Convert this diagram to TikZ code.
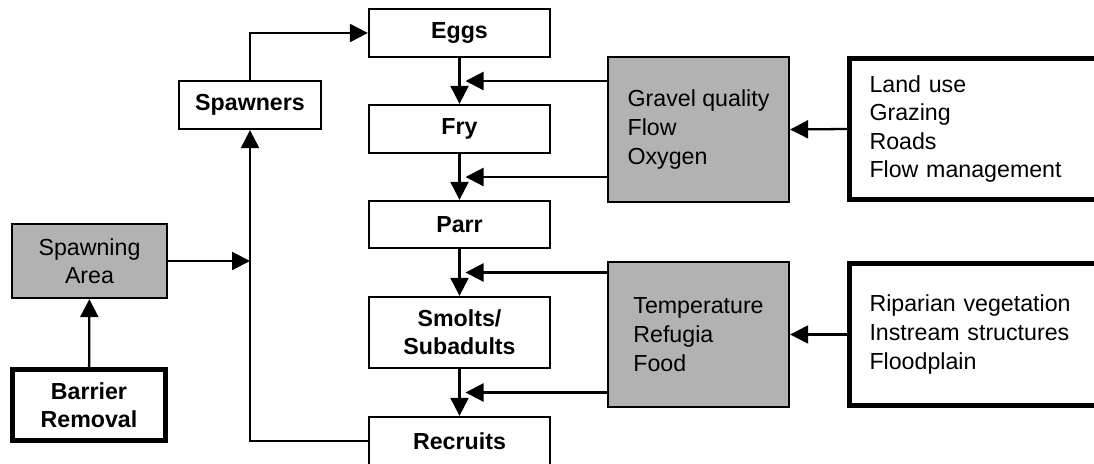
\documentclass[tikz,border=0pt]{standalone}
\usepackage{fontspec}
\setmainfont{Liberation Sans}
\usetikzlibrary{arrows.meta, calc}
\definecolor{habitatgray}{RGB}{178, 178, 178}

\begin{document}
\begin{tikzpicture}[
    stage/.style={
        rectangle,
        draw=black,
        fill=white,
        line width=1.3pt,
        minimum width=3.62cm,
        minimum height=0.96cm,
        align=center,
        font=\fontsize{13.2}{16}\selectfont\bfseries
    },
    factor/.style={
        rectangle,
        draw=black,
        fill=habitatgray,
        line width=1.3pt,
        minimum width=3.62cm,
        minimum height=2.9cm,
        align=left,
        font=\fontsize{13.2}{16.3}\selectfont
    },
    action/.style={
        rectangle,
        draw=black,
        fill=white,
        line width=2.8pt,
        minimum height=2.82cm,
        text width=4.4cm,
        inner xsep=0.4cm,
        align=left,
        font=\fontsize{13.2}{16.3}\selectfont
    },
    arrow/.style={
        -{Triangle[length=0.36cm, width=0.36cm]},
        line width=1.3pt
    }
]

% Page frame
\useasboundingbox (0,0) rectangle (21.88,9.26);
\clip (0,0) rectangle (21.88,9.26);
\fill[white] (0,0) rectangle (21.88,9.26);

% Life stages
\node[stage] (eggs) at (9.19,8.60) {Eggs};
\node[stage] (fry) at (9.19,6.68) {Fry};
\node[stage, minimum height=0.94cm] (parr) at (9.19,4.77) {Parr};
\node[stage, minimum height=1.42cm] (smolts) at (9.19,2.61) {Smolts/\\Subadults};
\node[stage] (recruits) at (9.19,0.44) {Recruits};
\node[stage, minimum width=2.84cm] (spawners) at (5.00,7.16) {Spawners};

% Spawning habitat
\node[stage, fill=habitatgray, font=\fontsize{13.2}{16}\selectfont, minimum width=3.10cm, minimum height=1.48cm] (spawning) at (1.79,4.04) {Spawning\\Area};
\node[stage, line width=2.8pt, minimum width=3.06cm, minimum height=1.42cm] (barrier) at (1.78,1.16) {Barrier\\Removal};

% Habitat factors
\node[factor] (gravel) at (13.97,6.67) {Gravel quality\\Flow\\Oxygen};
\node[factor] (temperature) at (13.97,2.57) {Temperature\\Refugia\\Food};

% Management actions
\node[action] (landuse) at (19.59,6.68) {Land use\\Grazing\\Roads\\Flow management};
\node[action, minimum height=2.84cm] (riparian) at (19.59,2.57) {Riparian vegetation\\Instream structures\\Floodplain};

% Arrow ends on the stage chain
\coordinate (gf1) at ($(eggs.south)!0.5!(fry.north) + (0.12,0)$);
\coordinate (gf2) at ($(fry.south)!0.5!(parr.north) + (0.12,0)$);
\coordinate (tf1) at ($(parr.south)!0.5!(smolts.north) + (0.12,0)$);
\coordinate (tf2) at ($(smolts.south)!0.5!(recruits.north) + (0.12,0)$);

% Arrows
\draw[arrow] (eggs) -- (fry);
\draw[arrow] (fry) -- (parr);
\draw[arrow] (parr) -- (smolts);
\draw[arrow] (smolts) -- (recruits);
\draw[arrow] (spawners.north) |- (eggs.west);
\draw[arrow] (recruits.west) -| (spawners.south);
\draw[arrow] (spawning.east) -- (spawning.east -| spawners.south);
\draw[arrow] (barrier) -- (spawning);
\draw[arrow] (gravel.west |- gf1) -- (gf1);
\draw[arrow] (gravel.west |- gf2) -- (gf2);
\draw[arrow] (temperature.west |- tf1) -- (tf1);
\draw[arrow] (temperature.west |- tf2) -- (tf2);
\draw[arrow] (landuse.west) -- (gravel.east);
\draw[arrow] (riparian.west) -- (temperature.east);

\end{tikzpicture}
\end{document}
